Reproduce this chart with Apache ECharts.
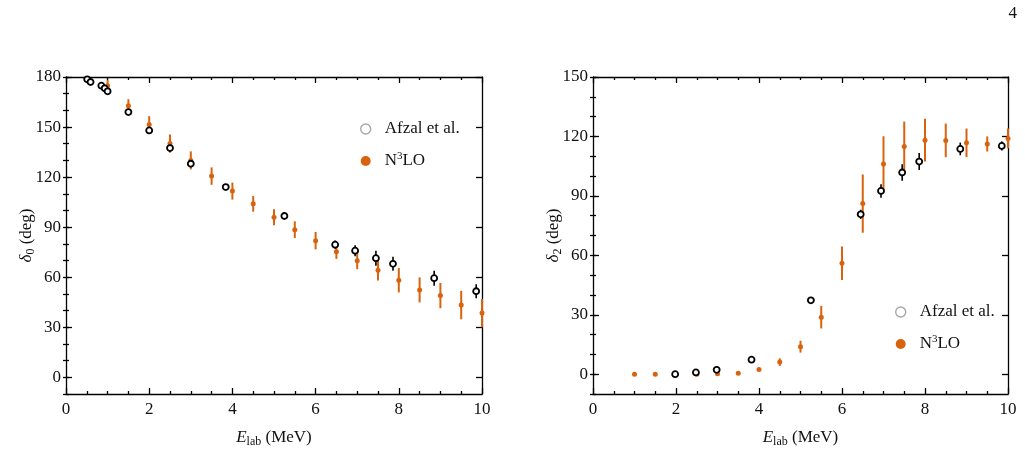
<!DOCTYPE html>
<html>
<head>
<meta charset="utf-8">
<script src="https://cdn.jsdelivr.net/npm/echarts@6/dist/echarts.min.js"></script>
<style>
html,body{margin:0;padding:0;background:#fff;}
#main{width:1025px;height:454px;}
</style>
</head>
<body>
<div id="main"></div>
<script>
// delta_0 panel, Afzal et al. (E, delta, err)
var afzalE0 = [0.51, 0.59, 0.85, 0.93, 1.0, 1.5, 2.0, 2.5, 3.0, 3.84, 5.25, 6.47, 6.95, 7.45, 7.86, 8.85, 9.86];
var afzalD0 = [178.6, 177, 174.8, 173.2, 171.4, 159, 148, 137.4, 128, 114, 96.7, 79.5, 75.9, 71.4, 68, 59.4, 51.6];
var afzalErr0 = [1, 1, 1, 1, 1, 1.5, 1.5, 2, 2, 1.5, 1.5, 2.5, 3.3, 4.5, 4.2, 4.5, 4.2];
// delta_0 panel, N3LO
var n3loE0 = [1.0, 1.5, 2.0, 2.5, 3.0, 3.5, 4.0, 4.5, 5.0, 5.5, 6.0, 6.5, 7.0, 7.5, 8.0, 8.5, 9.0, 9.5, 10.0];
var n3loD0 = [174.8, 162.7, 151.5, 140.1, 130, 120.6, 111.6, 104, 95.9, 88.5, 81.9, 75.3, 69.8, 64.2, 58.2, 52.4, 49, 43.3, 38.5];
var n3loErr0 = [3.5, 4, 5, 5.5, 5.4, 5.2, 5.1, 4.7, 4.8, 5, 5.2, 4.3, 5, 6.2, 7.3, 7.5, 7.6, 8.5, 8.5];
// delta_2 panel, Afzal et al.
var afzalE2 = [1.98, 2.48, 2.98, 3.82, 5.25, 6.45, 6.94, 7.45, 7.86, 8.85, 9.85];
var afzalD2 = [0, 0.9, 2.2, 7.3, 37.3, 80.7, 92.5, 101.8, 107.3, 113.7, 115.2];
var afzalErr2 = [0.5, 0.5, 0.5, 0.5, 1.5, 2.3, 3.4, 4.2, 4.3, 3.2, 2.3];
// delta_2 panel, N3LO
var n3loE2 = [1.0, 1.5, 2.0, 2.5, 3.0, 3.5, 4.0, 4.5, 5.0, 5.5, 6.0, 6.5, 7.0, 7.5, 8.0, 8.5, 9.0, 9.5, 10.0];
var n3loD2 = [0, 0, 0, 0, 0.2, 0.5, 2.4, 6.1, 13.9, 28.8, 56, 86.1, 106.1, 114.9, 118.1, 118, 116.8, 116.2, 119];
var n3loErr2 = [0.3, 0.3, 0.3, 0.3, 0.3, 0.4, 0.8, 1.9, 3, 5.7, 8.5, 14.7, 14, 12.6, 10.8, 8.5, 7.2, 3.8, 5];

// tick labels
var yTicks0 = [0, 30, 60, 90, 120, 150, 180];
var yTicks2 = [0, 30, 60, 90, 120, 150];

var ORANGE = '#d9620c';
var FONT = "'Liberation Serif','DejaVu Serif',serif";

function pts(xs, ys, es){
	var out = [];
	for(var i=0;i<xs.length;i++){
		out.push([xs[i], ys[i], es[i]]);
	}
	return out;
}

// vertical error bar, clipped to grid
function errBar(color, w){
	return function(params, api){
		var cs = params.coordSys;
		var x = api.value(0), y = api.value(1), e = api.value(2);
		var p1 = api.coord([x, y - e]), p2 = api.coord([x, y + e]);
		if(p1[0] < cs.x - 1 || p1[0] > cs.x + cs.width + 1) return;
		var yTop = Math.max(Math.min(p1[1], p2[1]), cs.y);
		var yBot = Math.min(Math.max(p1[1], p2[1]), cs.y + cs.height);
		return {
			type: 'line',
			shape: {x1: p1[0], y1: yTop, x2: p1[0], y2: yBot},
			style: {stroke: color, lineWidth: w}
		};
	};
}

var lineStyle = {color: '#000', width: 1.3};
var labelStyle = {color: '#111', fontFamily: FONT, fontSize: 17};

function xAxes(gi){
	var base = {
		gridIndex: gi, type: 'value', min: 0, max: 10, interval: 2,
		axisLine: {show: true, onZero: false, lineStyle: lineStyle},
		axisTick: {inside: true, length: 6, lineStyle: lineStyle},
		minorTick: {show: true, splitNumber: 4, length: 3, lineStyle: lineStyle},
		splitLine: {show: false}
	};
	var bottom = echarts.util.merge({
		position: 'bottom',
		axisLabel: echarts.util.merge({margin: 7}, labelStyle),
		name: '{i|E}{s|lab} (MeV)', nameLocation: 'middle', nameGap: 34,
		nameTextStyle: {
			fontFamily: FONT, fontSize: 17, color: '#111', lineHeight: 20,
			rich: {
				i: {fontFamily: FONT, fontSize: 17, fontStyle: 'italic', lineHeight: 20},
				s: {fontFamily: FONT, fontSize: 12, verticalAlign: 'bottom', lineHeight: 14}
			}
		}
	}, base);
	var top = echarts.util.merge({position: 'top', axisLabel: {show: false}}, base);
	return [bottom, top];
}

function yAxes(gi, max, ticks, sub){
	var base = {
		gridIndex: gi, type: 'value', min: -10, max: max,
		splitLine: {show: false}
	};
	var left = echarts.util.merge({
		position: 'left',
		axisLine: {show: true, onZero: false, lineStyle: lineStyle},
		axisTick: {inside: true, length: 6, lineStyle: lineStyle, customValues: ticks},
		axisLabel: echarts.util.merge({margin: 5, customValues: ticks}, labelStyle),
		name: '{d|δ}{s|' + sub + '} (deg)', nameLocation: 'middle', nameGap: 29, nameRotate: 90,
		nameMoveOverlap: false,
		nameTextStyle: {
			fontFamily: FONT, fontSize: 17, color: '#111', lineHeight: 20,
			rich: {
				d: {fontFamily: FONT, fontSize: 17, fontStyle: 'italic', lineHeight: 20},
				s: {fontFamily: FONT, fontSize: 12, verticalAlign: 'bottom', lineHeight: 14}
			}
		}
	}, base);
	var right = echarts.util.merge({
		position: 'right',
		axisLine: {show: true, onZero: false, lineStyle: lineStyle},
		axisTick: {inside: true, length: 6, lineStyle: lineStyle, customValues: ticks},
		axisLabel: {show: false}
	}, base);
	// minor ticks every 10 deg
	var leftMinor = echarts.util.merge({
		position: 'left', interval: 10,
		axisLine: {show: false},
		axisTick: {inside: true, length: 3, lineStyle: lineStyle},
		axisLabel: {show: false}
	}, base);
	var rightMinor = echarts.util.merge({
		position: 'right', interval: 10,
		axisLine: {show: false},
		axisTick: {inside: true, length: 3, lineStyle: lineStyle},
		axisLabel: {show: false}
	}, base);
	return [left, right, leftMinor, rightMinor];
}

function panelSeries(gi, afz, n3){
	var xi = gi * 2, yi = gi * 4;
	return [{
		name: 'errN' + gi, type: 'custom', xAxisIndex: xi, yAxisIndex: yi,
		renderItem: errBar(ORANGE, 2), data: n3, z: 2, silent: true
	},{
		name: 'N3LO', type: 'scatter', xAxisIndex: xi, yAxisIndex: yi,
		symbol: 'circle', symbolSize: 5, itemStyle: {color: ORANGE, opacity: 1},
		data: n3, z: 3
	},{
		name: 'errA' + gi, type: 'custom', xAxisIndex: xi, yAxisIndex: yi,
		renderItem: errBar('#000', 1.6), data: afz, z: 4, silent: true
	},{
		name: 'Afzal et al.', type: 'scatter', xAxisIndex: xi, yAxisIndex: yi,
		symbol: 'circle', symbolSize: 6,
		itemStyle: {color: '#fff', borderColor: '#000', borderWidth: 1.8, opacity: 1},
		data: afz, z: 5
	}];
}

function legendFor(left, top){
	return {
		orient: 'vertical', left: left, top: top,
		itemWidth: 28, itemHeight: 10, itemGap: 12, selectedMode: false,
		data: [
			{name: 'Afzal et al.', icon: 'circle', itemStyle: {color: '#fff', borderColor: '#a8a8a8', borderWidth: 1.4}},
			{name: 'N3LO', icon: 'circle', itemStyle: {color: ORANGE}}
		],
		formatter: function(n){
			if(n === 'N3LO') return '{t|N}{p|3}{t|LO}';
			return '{t|' + n + '}';
		},
		textStyle: {
			fontFamily: FONT, fontSize: 17, color: '#111', lineHeight: 20,
			rich: {
				t: {fontFamily: FONT, fontSize: 17, lineHeight: 20},
				p: {fontFamily: FONT, fontSize: 11, verticalAlign: 'top', lineHeight: 12}
			}
		}
	};
}

var myChart = echarts.init(document.getElementById('main'));

var option = {
	animation: false,
	backgroundColor: '#fff',
	grid: [
		{left: 66, right: 543, top: 77, bottom: 60},
		{left: 593, right: 17, top: 77, bottom: 60}
	],
	xAxis: xAxes(0).concat(xAxes(1)),
	yAxis: yAxes(0, 180, yTicks0, '0').concat(yAxes(1, 150, yTicks2, '2')),
	legend: [legendFor(355, 114), legendFor(890, 297)],
	graphic: [{
		type: 'text', right: 8, top: 5,
		style: {text: '4', fontFamily: FONT, fontSize: 17, fill: '#111'}
	}],
	series: panelSeries(0, pts(afzalE0, afzalD0, afzalErr0), pts(n3loE0, n3loD0, n3loErr0))
		.concat(panelSeries(1, pts(afzalE2, afzalD2, afzalErr2), pts(n3loE2, n3loD2, n3loErr2)))
};

myChart.setOption(option);
</script>
</body>
</html>
